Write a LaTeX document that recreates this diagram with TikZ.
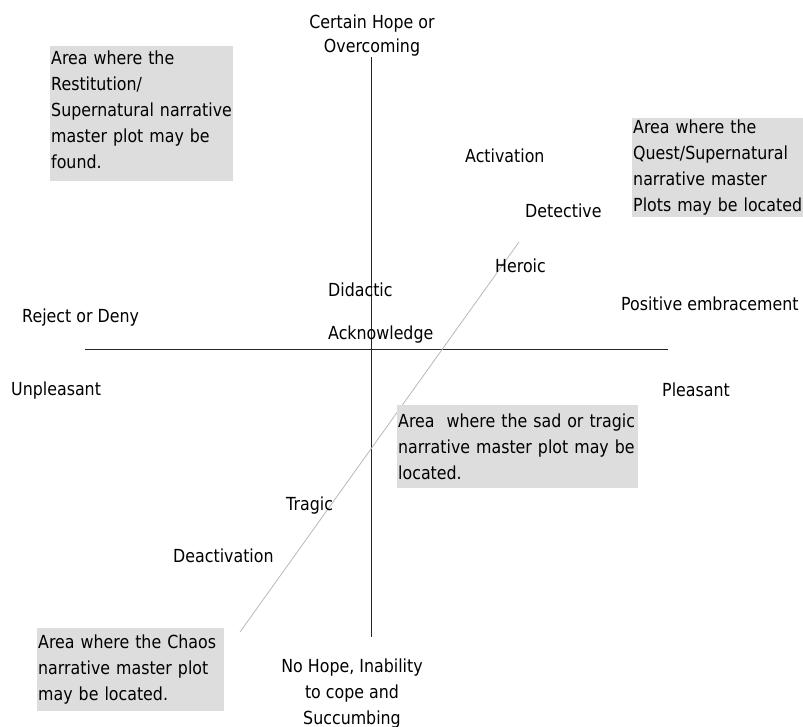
\documentclass[tikz,border=0pt]{standalone}
\usepackage{fontspec}
\setmainfont{DejaVu Sans}[FakeStretch=0.88]
\definecolor{boxgray}{HTML}{DCDDDC}
\begin{document}
\begin{tikzpicture}[x=1pt,y=-1pt,
  lbl/.style={inner sep=0pt, anchor=base west, font=\fontsize{18}{26}\selectfont, text=black},
  mlbl/.style={inner sep=0pt, anchor=north, align=center, text=black},
  area/.style={fill=boxgray, inner xsep=1pt, inner ysep=0pt, anchor=north west, align=left, font=\fontsize{18}{26}\selectfont, text=black},
  axis/.style={draw=black!85, line width=1pt},
  diag/.style={draw=black!28, line width=0.8pt}]
\useasboundingbox (0,0) rectangle (803,727);

% axes
\coordinate (vt) at (371.5,57);
\coordinate (vb) at (371.5,637);
\coordinate (hl) at (85,349);
\coordinate (hr) at (668,349);
\coordinate (dl) at (240,632);
\coordinate (du) at (519,242);
\draw[axis] (vt) -- (vb);
\draw[axis] (hl) -- (hr);
\draw[diag] (dl) -- (du);

% shaded areas
\node[area, text width=181pt, minimum height=135pt] (b1) at (50,46)
  {\mbox{Area where the}\\ \mbox{Restitution/}\\ \mbox{Supernatural narrative}\\ \mbox{master plot may be}\\ \mbox{found.}\par\vspace{8pt}};
\node[area, text width=169pt, minimum height=99pt] (b2) at (632,118)
  {\mbox{Area where the}\\ \mbox{Quest/Supernatural}\\ \mbox{narrative master}\\ \mbox{Plots may be located}};
\node[area, text width=239pt, minimum height=83pt] (b3) at (397,405)
  {\mbox{Area\ \ where the sad or tragic}\\ \mbox{narrative master plot may be}\\ \mbox{located.}};
\node[area, text width=185pt, minimum height=83pt] (b4) at (37,628)
  {\mbox{Area where the Chaos}\\ \mbox{narrative master plot}\\ \mbox{may be located.}};

% axis labels
\node[mlbl, font=\fontsize{18}{24}\selectfont] (top) at (372,14.5) {Certain Hope or\\Overcoming};
\node[mlbl, font=\fontsize{18}{26}\selectfont] (bot) at (352,658.3) {No Hope, Inability\\to cope and\\Succumbing};
\node[lbl] (act) at (465,163) {Activation};
\node[lbl] (det) at (525,218) {Detective};
\node[lbl] (her) at (495,273) {Heroic};
\node[lbl] (did) at (328,297) {Didactic};
\node[lbl] (ack) at (328,339) {Acknowledge};
\node[lbl] (rej) at (22,323) {Reject or Deny};
\node[lbl] (pos) at (621,311) {Positive embracement};
\node[lbl] (unp) at (11,395) {Unpleasant};
\node[lbl] (ple) at (662,396) {Pleasant};
\node[lbl] (tra) at (286,510) {Tragic};
\node[lbl] (dea) at (173,562) {Deactivation};
\end{tikzpicture}
\end{document}
